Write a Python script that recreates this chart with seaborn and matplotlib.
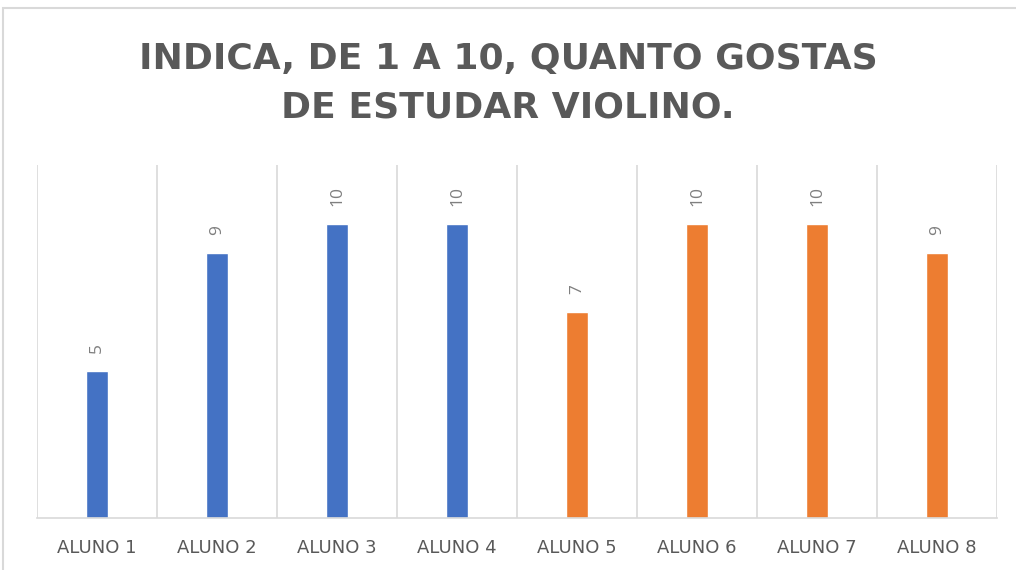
import pandas as pd
import matplotlib.pyplot as plt
import seaborn as sns
from matplotlib.patches import Rectangle

# chart data
alunos = ["ALUNO 1", "ALUNO 2", "ALUNO 3", "ALUNO 4",
          "ALUNO 5", "ALUNO 6", "ALUNO 7", "ALUNO 8"]
notas = [5, 9, 10, 10, 7, 10, 10, 9]
cores = ["#4472C4"] * 4 + ["#ED7D31"] * 4

df = pd.DataFrame({"aluno": alunos, "nota": notas})

sns.set_theme(style="white")
plt.rcParams["font.family"] = ["Open Sans", "DejaVu Sans"]

fig = plt.figure(figsize=(10.16, 5.7), dpi=100)
ax = fig.add_axes([0.0364, 0.0912, 0.9449, 0.6193])

sns.barplot(data=df, x="aluno", y="nota", hue="aluno", palette=cores,
            width=0.19, legend=False, ax=ax, saturation=1)

for c in ax.containers:
    ax.bar_label(c, rotation=90, padding=13, color="#7F7F7F", fontsize=12.5)

ax.set_ylim(0, 12)
ax.set_xlim(-0.5, 7.5)
ax.set_xlabel("")
ax.set_ylabel("")
ax.set_yticks([])

# category separators
ax.set_xticks([i - 0.5 for i in range(9)], minor=True)
ax.grid(which="minor", axis="x", color="#D9D9D9", linewidth=1.2)
ax.tick_params(axis="x", which="both", length=0, pad=15,
               labelsize=13, labelcolor="#595959")
for lbl in ax.get_xticklabels():
    lbl.set_family("DejaVu Sans")
for s in ["top", "right", "left"]:
    ax.spines[s].set_visible(False)
ax.spines["bottom"].set_color("#D9D9D9")
ax.spines["bottom"].set_linewidth(1.2)

fig.text(0.5, 0.8535, "INDICA, DE 1 A 10, QUANTO GOSTAS\nDE ESTUDAR VIOLINO.",
         ha="center", va="center", fontsize=26, fontweight="bold",
         family="DejaVu Sans", color="#595959", linespacing=1.55)

# outer chart border
fig.patches.append(Rectangle((3 / 1016, -0.1), 1.1, 1 - 8 / 570 + 0.1,
                             transform=fig.transFigure, fill=False,
                             edgecolor="#D9D9D9", linewidth=1.5))

fig.savefig("out.png", dpi=100)
